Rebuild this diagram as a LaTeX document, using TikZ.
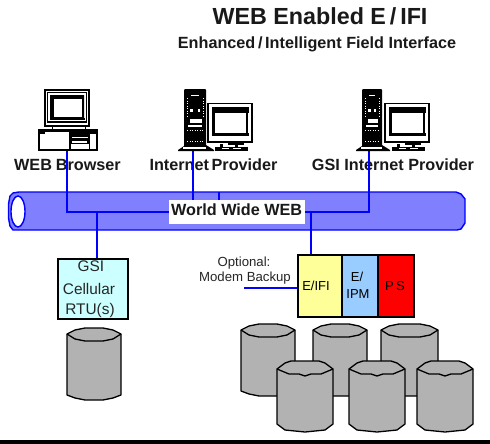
\documentclass[tikz,border=0pt]{standalone}
\usepackage{fontspec}
\setmainfont{Liberation Sans}
\definecolor{pipeblue}{HTML}{8080FF}
\definecolor{wireblue}{HTML}{0000FF}
\definecolor{rtucyan}{HTML}{CCFFFF}
\definecolor{yel}{HTML}{FFFF99}
\definecolor{sky}{HTML}{99CCFF}
\definecolor{cylgray}{HTML}{B2B2B2}
\tikzset{
  wire/.style={draw=wireblue,line width=1.4pt},
  unit/.style={draw=black,line width=1.6pt,inner sep=0pt,anchor=north west,align=center},
  lbl/.style={font=\bfseries\fontsize{16.2}{18}\selectfont,inner sep=0pt,text=black!90,anchor=base},
  thin label/.style={font=\fontsize{13.2}{14}\selectfont,inner sep=0pt,align=center,text=black!85,anchor=base},
  unit text/.style={font=\fontsize{13}{15}\selectfont,inner sep=0pt,text=black,anchor=base},
  icon/.style={draw=black,line width=1.3pt,fill=white},
  cyl/.style={draw=black,line width=1.3pt,fill=cylgray,line join=round},
}
% back cylinder: x1 y1 x2 y2
\newcommand{\cylA}[4]{%
  \draw[cyl] (#1,#2+6) -- (#1+8,#2+2) -- (#1+18,#2) -- (#3-18,#2) -- (#3-8,#2+2) -- (#3,#2+6)
    -- (#3,#4-5) -- (#3-8,#4-2) -- (#3-18,#4) -- (#1+18,#4) -- (#1+8,#4-2) -- (#1,#4-5) -- cycle;
  \draw[cyl,fill=none] (#1,#2+6) -- (#1+8,#2+11) -- (#1+18,#2+13) -- (#3-18,#2+13) -- (#3-8,#2+11) -- (#3,#2+6);
}
% front cylinder
\newcommand{\cylB}[4]{%
  \draw[cyl] (#1,#2+8) -- (#1+8,#2+2) -- (#1+14,#2) -- (#3-14,#2) -- (#3-8,#2+2) -- (#3,#2+8)
    -- (#3,#4-8) -- (#3-8,#4-2) -- (#3-18,#4-1) -- (#3-28,#4) -- (#1+18,#4-1) -- (#1+8,#4-2) -- (#1,#4-8) -- cycle;
  \draw[cyl,fill=none] (#1,#2+8) -- (#1+12,#2+13) -- (#1+22,#2+13) -- (#1+28,#2+15) -- (#3-22,#2+13) -- (#3-12,#2+13) -- (#3,#2+8);
}
% tower with monitor: tower x, monitor x
\newcommand{\server}[3]{%
  \fill[black] (#1+1,89) -- (#1+#3-1,89) -- (#1+#3,90) -- (#1+#3,145) -- (#1+#3+8,150) -- (#1+#3+8,151) -- (#1-6,151) -- (#1-6,150) -- (#1,146) -- (#1,90) -- cycle;
  \fill[white] (#1+7,94.5) rectangle (#1+#3-7,95.5);
  \fill[white] (#1+6,109) rectangle (#1+9,112);
  \fill[white] (#1+#3-8,109) rectangle (#1+#3-6,112);
  \fill[white] (#1+6,119) rectangle (#1+#3-4,123);
  \fill[white] (#1+4,125) rectangle (#1+#3-4,126.5);
  \fill[white] (#1-1,147) rectangle (#1+#3,149);
  \draw[white,line width=.5pt,dotted] (#1+3,98) -- (#1+3,116);
  \draw[white,line width=.5pt,dotted] (#1+#3-3,98) -- (#1+#3-3,116);
  \draw[white,line width=.5pt,dotted] (#1+3,130) -- (#1+#3-3,130);
  \draw[white,line width=.5pt,dotted] (#1+3,141) -- (#1+#3-3,141);
  % monitor
  \draw[icon,line width=1.5pt] (#2,103.5) rectangle (#2+44,142);
  \fill[black] (#2+3.5,107) rectangle (#2+41,113);
  \fill[black] (#2+3.5,107) rectangle (#2+7,135);
  \fill[black] (#2+3.5,132.5) rectangle (#2+41,136);
  \fill[black] (#2+38,107) rectangle (#2+40,135);
  \fill[white] (#2+8,113) rectangle (#2+37.5,132.5);
  \fill[black] (#2+20,142) rectangle (#2+36,145);
  \fill[black] (#2+7,147) rectangle (#2+40,151);
  \fill[white] (#2+14,147.5) rectangle (#2+21,148.5);
  \fill[white] (#2+25,147.5) rectangle (#2+33,148.5);
  \fill[black] (#2+12,144) rectangle (#2+15,148);
  \fill[black] (#2+27,144) rectangle (#2+30,148);
}
\begin{document}
\begin{tikzpicture}[x=1pt,y=-1pt]
\useasboundingbox (0,0) rectangle (490,444);
\fill[white] (0,0) rectangle (490,444);
% titles
\node[font=\bfseries\fontsize{23.3}{25}\selectfont,inner sep=0pt,text=black!90,anchor=base] (title) at (320,25) {WEB Enabled E\,/\,IFI};
\node[font=\bfseries\fontsize{16.2}{18}\selectfont,inner sep=0pt,text=black!90,anchor=base] (subtitle) at (317,48.3) {Enhanced\,/\,Intelligent Field Interface};
% pipe
\draw[draw=wireblue,line width=1.4pt,fill=pipeblue]
  (19,192) -- (456,192) -- (461,194) -- (465,199) -- (465,223) -- (461,229) -- (457,230) -- (13,230) -- (10,226) -- (8.5,218) -- (8.5,204) -- (10,196) -- (13,193) -- cycle;
\draw[draw=wireblue,line width=1.4pt,fill=white] (18,211.5) ellipse [x radius=7,y radius=15.5];
% labels
\node[lbl] (l1) at (67.5,170) {WEB\hspace{4pt}Browser};
\node[lbl] (l2) at (213.5,170) {Internet\,Provider};
\node[lbl] (l3) at (393,170) {GSI Internet Provider};
\node[thin label] (opt1) at (244,266.5) {Optional:};
\node[thin label] (opt2) at (245,281.5) {Modem Backup};
% anchors on icons
\coordinate (pcport) at (67,150);
\coordinate (srvport) at (193,150);
\coordinate (gsiport) at (369,150);
\coordinate (pipetop) at (219,192);
\coordinate (j1) at (67,212);
\coordinate (j2) at (97,212);
\coordinate (j3) at (369,212);
\coordinate (j4) at (311,212);
\coordinate (modemend) at (244,288);
% boxes
\node[unit,fill=rtucyan,minimum width=70pt,minimum height=60pt] (rtu) at (57,258) {};
\node[inner sep=0pt,font=\fontsize{15.4}{18}\selectfont,text=black!85,anchor=base] (rtu1) at (91,271) {GSI};
\node[inner sep=0pt,font=\fontsize{15.4}{18}\selectfont,text=black!85,anchor=base] (rtu2) at (89,294) {Cellular};
\node[inner sep=0pt,font=\fontsize{15.4}{18}\selectfont,text=black!85,anchor=base] (rtu3) at (90,314) {RTU(s)};
\node[unit,fill=yel,minimum width=44pt,minimum height=62pt] (eifi) at (297,254) {};
\node[unit,fill=sky,minimum width=36pt,minimum height=62pt] (eipm) at (341,254) {};
\node[unit,fill=red,minimum width=36pt,minimum height=62pt] (ps) at (377,254) {};
\node[unit text] (t1) at (316,290) {E/IFI};
\node[unit text] (t2) at (357,281.5) {E/};
\node[unit text] (t3) at (358,298) {IPM};
\node[unit text] (t4) at (395,290) {P\,S};
% wires
\draw[wire] (pcport) -- (j1) -- (j2) -- (rtu.north -| j2);
\draw[wire] (j2) -- (230,212);
\draw[wire] (srvport) -- (193,205);
\draw[wire] (pipetop) -- (219,205);
\draw[wire] (gsiport) -- (j3) -- (j4) -- (eifi.north -| j4);
\draw[wire] (j4) -- (290,212);
\draw[wire] (modemend) -- (eifi.west |- modemend);
% web label
\node[fill=white,inner sep=0pt,minimum width=136pt,minimum height=24pt] (web) at (237,212) {};
\node[lbl] (webt) at (236.7,215.5) {World Wide WEB};
% PC
\draw[icon,line width=1.5pt] (45,90) rectangle (89,126);
\draw[black,line width=1.5pt] (47.5,92.5) rectangle (86.5,122);
\fill[black] (50,97) -- (50,95) -- (84,95) -- (84,118) -- (50,118) -- cycle;
\fill[white] (54,99) rectangle (82,117);
\fill[black] (50,118) rectangle (85,119.5);
\draw[black,line width=1pt] (52,126) -- (52,129) (85,126) -- (85,129);
\draw[icon,line width=1.5pt] (39,130) rectangle (97,150);
\fill[black] (39,130) rectangle (97,132);
\fill[black] (39,130) rectangle (45,134);
\fill[black] (69,131) rectangle (97,134);
\fill[black] (69,130) rectangle (71,150);
\fill[black] (71,131) rectangle (89,144);
\fill[white] (72,137) rectangle (88,138);
\fill[white] (72,141) rectangle (87,142.5);
\draw[black,line width=1pt] (89.5,133) -- (89.5,150);
\server{184}{208}{22}
\server{362}{385}{20}
% cylinders
\cylA{67}{328}{121}{400}
\cylA{241}{324}{295}{396}
\cylA{313}{324}{367}{396}
\cylA{381}{324}{438}{396}
\cylB{277}{361}{333}{432}
\cylB{349}{361}{405}{432}
\cylB{417}{361}{473}{432}
% bottom bar
\fill[black] (0,440) rectangle (490,444);
\end{tikzpicture}
\end{document}
